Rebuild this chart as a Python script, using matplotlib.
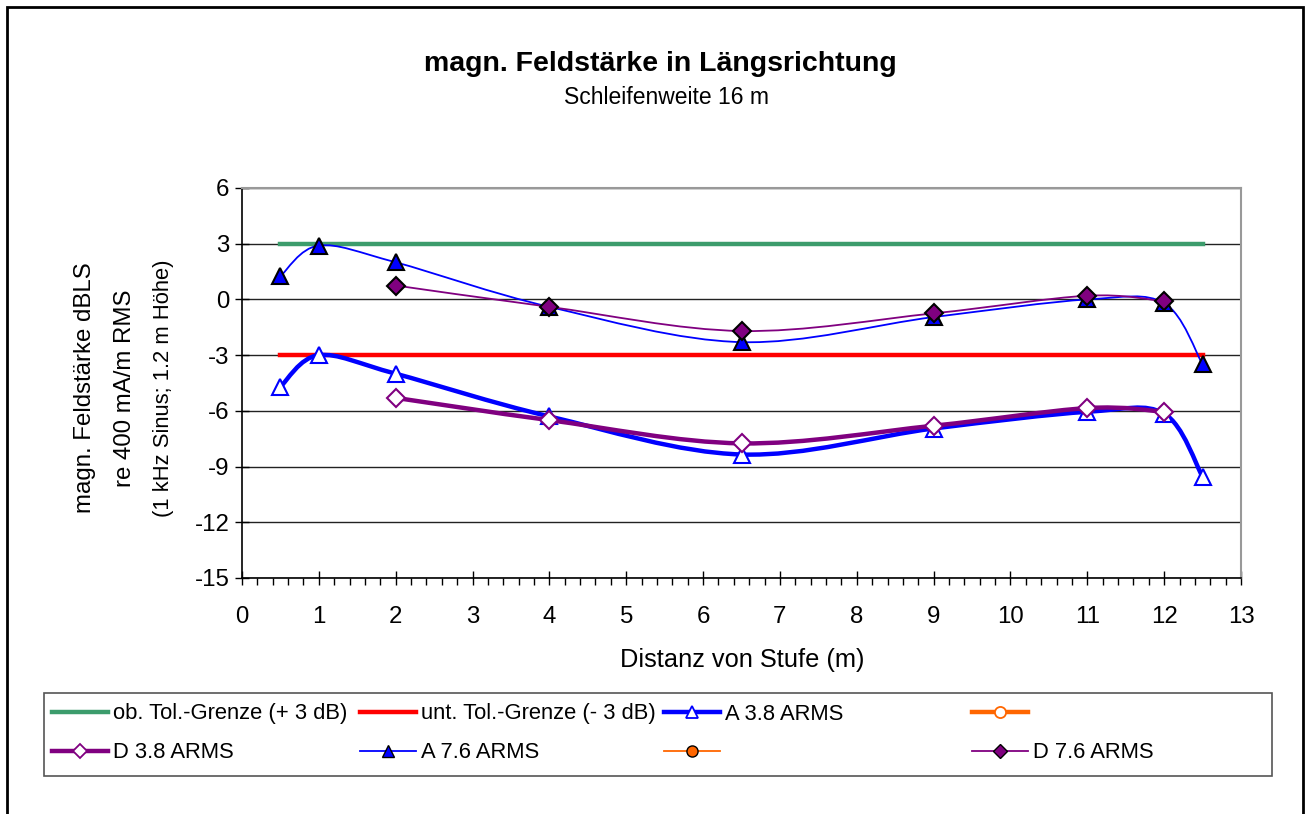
import matplotlib
matplotlib.use("Agg")
import matplotlib.pyplot as plt
from matplotlib.path import Path
from matplotlib.patches import PathPatch, Rectangle
from matplotlib.lines import Line2D
from matplotlib.ticker import MultipleLocator
import numpy as np

plt.rcParams['font.family'] = ['Liberation Sans', 'DejaVu Sans']
plt.rcParams['axes.unicode_minus'] = False

# ---- data ----
tol_x = [0.5, 12.5]
tol_upper = [3, 3]
tol_lower = [-3, -3]

a38_x = [0.5, 1, 2, 4, 6.5, 9, 11, 12, 12.5]
a38_y = [-4.7, -3.0, -4.0, -6.3, -8.35, -6.95, -6.05, -6.15, -9.55]

d38_x = [2, 4, 6.5, 9, 11, 12]
d38_y = [-5.3, -6.5, -7.75, -6.8, -5.85, -6.05]

a76_x = [0.5, 1, 2, 4, 6.5, 9, 11, 12, 12.5]
a76_y = [1.25, 2.9, 2.0, -0.4, -2.3, -0.95, 0.0, -0.2, -3.5]

d76_x = [2, 4, 6.5, 9, 11, 12]
d76_y = [0.75, -0.4, -1.7, -0.75, 0.2, -0.1]

x_ticks = list(range(0, 14))
y_ticks = [6, 3, 0, -3, -6, -9, -12, -15]

GREEN = '#3c9c6c'
RED = '#ff0000'
BLUE = '#0000ff'
PURPLE = '#800080'
ORANGE = '#ff6600'

fig = plt.figure(figsize=(13.09, 8.14), dpi=100)
W, H = 1309, 814
ax = fig.add_axes([242 / W, 1 - 578 / H, (1241 - 242) / W, (578 - 188) / H])


def smooth_path(xs, ys):
    pts = np.column_stack([xs, ys]).astype(float)
    n = len(pts)
    verts = [pts[0]]
    codes = [Path.MOVETO]
    for i in range(n - 1):
        p0 = pts[i - 1] if i > 0 else pts[i]
        p1 = pts[i]
        p2 = pts[i + 1]
        p3 = pts[i + 2] if i + 2 < n else pts[i + 1]
        c1 = p1 + (p2 - p0) / 6.0
        c2 = p2 - (p3 - p1) / 6.0
        verts += [c1, c2, p2]
        codes += [Path.CURVE4] * 3
    return Path(verts, codes)


def series(xs, ys, color, lw, marker, ms, mfc, mec, z):
    ax.add_patch(PathPatch(smooth_path(xs, ys), fill=False, edgecolor=color,
                           lw=lw, zorder=z, capstyle='round', joinstyle='round'))
    ax.plot(xs, ys, linestyle='none', marker=marker, ms=ms, mfc=mfc, mec=mec,
            mew=1.5, zorder=z + 0.5)


ax.plot(tol_x, tol_upper, color=GREEN, lw=3.2, zorder=2)
ax.plot(tol_x, tol_lower, color=RED, lw=3.2, zorder=2.1)
series(a38_x, a38_y, BLUE, 3.2, '^', 12, 'white', BLUE, 3)
series(d38_x, d38_y, PURPLE, 3.2, 'D', 9, 'white', PURPLE, 4)
series(a76_x, a76_y, BLUE, 1.3, '^', 12, BLUE, 'black', 5)
series(d76_x, d76_y, PURPLE, 1.3, 'D', 9, PURPLE, 'black', 6)

ax.set_xlim(0, 13)
ax.set_ylim(-15, 6)
ax.set_xticks(x_ticks)
ax.set_yticks(y_ticks)
ax.xaxis.set_minor_locator(MultipleLocator(0.2))
ax.tick_params(axis='both', which='major', direction='inout', length=10,
               width=1, labelsize=17.3, color='black')
ax.tick_params(axis='x', which='minor', direction='out', length=5, width=1)
ax.tick_params(axis='x', which='major', pad=15)
ax.tick_params(axis='y', which='major', pad=4)
ax.yaxis.grid(True, color='#222222', lw=1, zorder=0)
ax.set_axisbelow(True)
for s in ['top', 'right']:
    ax.spines[s].set_color('#999999')
    ax.spines[s].set_linewidth(1.5)
for s in ['left', 'bottom']:
    ax.spines[s].set_color('black')
    ax.spines[s].set_linewidth(1.2)

# x-axis label
fig.text(742 / W, 1 - 660 / H, 'Distanz von Stufe (m)', ha='center',
         va='center', fontsize=18.3)

# y-axis label (three lines)
fig.text(85 / W, 1 - 388 / H, 'magn. Feldstärke dBLS', rotation=90,
         ha='center', va='center', fontsize=17.3)
fig.text(125 / W, 1 - 388 / H, 're 400 mA/m RMS', rotation=90,
         ha='center', va='center', fontsize=17.3)
fig.text(164 / W, 1 - 388 / H, '(1 kHz Sinus; 1.2 m Höhe)', rotation=90,
         ha='center', va='center', fontsize=15.8)

# titles
fig.text(660 / W, 1 - 64 / H, 'magn. Feldstärke in Längsrichtung', ha='center',
         va='center', fontsize=20.5, fontweight='bold')
fig.text(666 / W, 1 - 97 / H, 'Schleifenweite 16 m', ha='center',
         va='center', fontsize=16.5)

# outer border
fig.patches.append(Rectangle((7 / W, -0.02), (1303 - 7) / W, 1.02 - 7 / H,
                             transform=fig.transFigure, fill=False,
                             edgecolor='black', lw=2))

# legend box
fig.patches.append(Rectangle((44 / W, 1 - 776 / H), (1272 - 44) / W, (776 - 693) / H,
                             transform=fig.transFigure, fill=False,
                             edgecolor='#555555', lw=1.2))

entries = [
    (Line2D([], [], color=GREEN, lw=3.2), 'ob. Tol.-Grenze (+ 3 dB)', 52, 714),
    (Line2D([], [], color=RED, lw=3.2), 'unt. Tol.-Grenze (- 3 dB)', 360, 714),
    (Line2D([], [], color=BLUE, lw=3.2, marker='^', ms=9, mfc='white', mec=BLUE, mew=1.3),
     'A 3.8 ARMS', 664, 714),
    (Line2D([], [], color=ORANGE, lw=3.2, marker='o', ms=8, mfc='white', mec=ORANGE, mew=1.3),
     '', 972, 714),
    (Line2D([], [], color=PURPLE, lw=3.2, marker='D', ms=7, mfc='white', mec=PURPLE, mew=1.3),
     'D 3.8 ARMS', 52, 753),
    (Line2D([], [], color=BLUE, lw=1.3, marker='^', ms=9, mfc=BLUE, mec='black', mew=1.0),
     'A 7.6 ARMS', 360, 753),
    (Line2D([], [], color=ORANGE, lw=1.3, marker='o', ms=8, mfc=ORANGE, mec='black', mew=1.0),
     '', 664, 753),
    (Line2D([], [], color=PURPLE, lw=1.3, marker='D', ms=7, mfc=PURPLE, mec='black', mew=1.0),
     'D 7.6 ARMS', 972, 753),
]
for h, lab, px, py in entries:
    fig.legend([h], [lab], loc='center left',
               bbox_to_anchor=(px / W, 1 - py / H), frameon=False,
               fontsize=15.8, handlelength=2.55, handletextpad=0.23,
               borderpad=0, borderaxespad=0)

fig.savefig('out.png', dpi=100)
